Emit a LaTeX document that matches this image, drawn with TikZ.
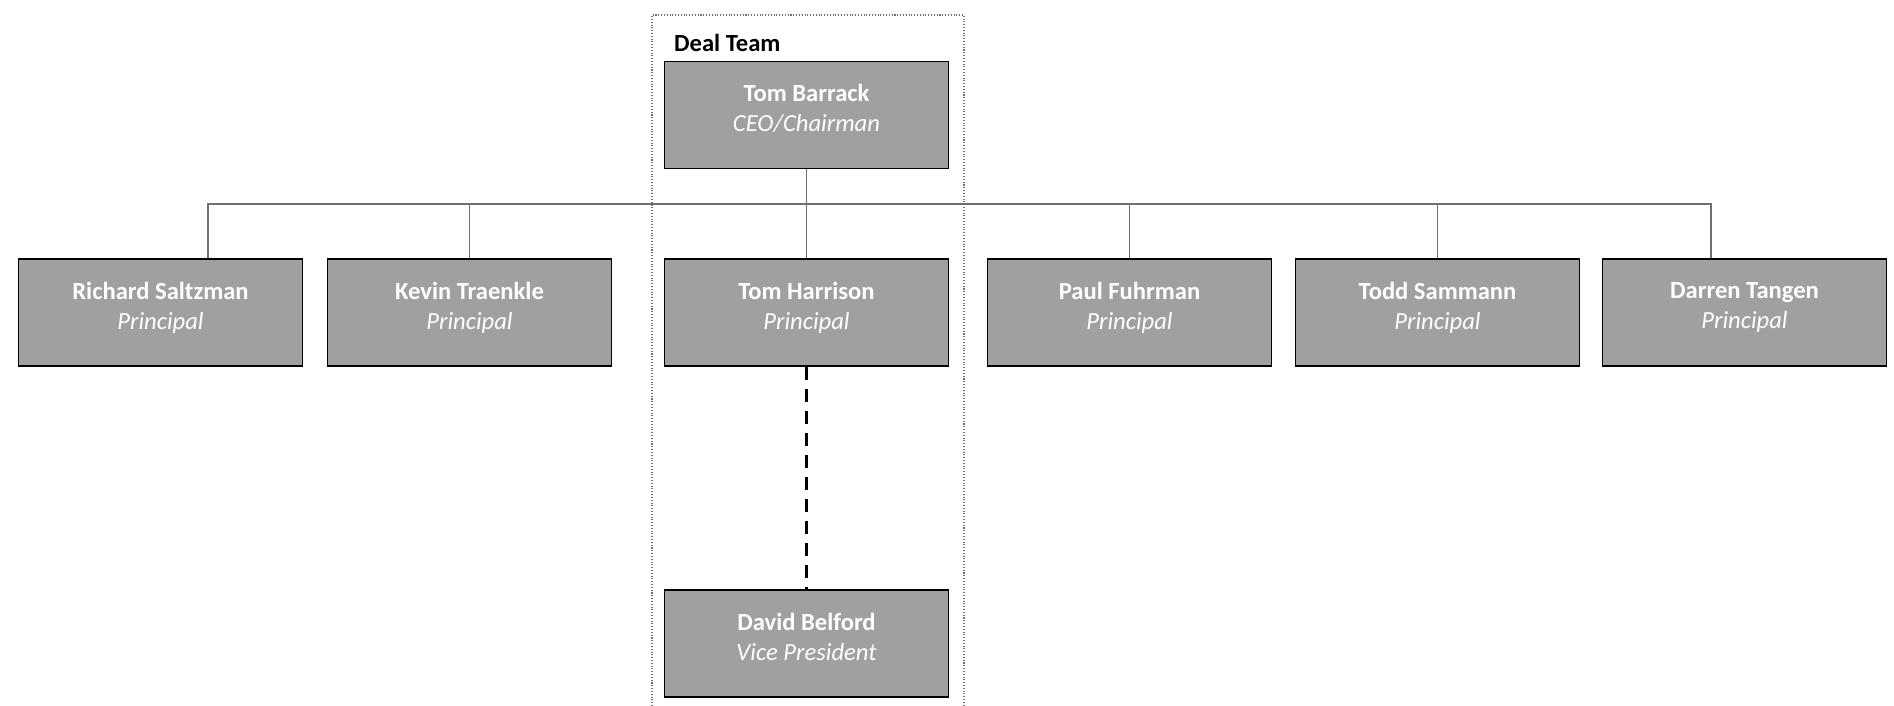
\documentclass[tikz,border=0pt]{standalone}
\usepackage{fontspec}
\setmainfont{Carlito}
\usepackage{tikz}
\usetikzlibrary{positioning,calc}
\definecolor{boxgray}{HTML}{A0A0A0}
\definecolor{linegray}{HTML}{707070}

\begin{document}
\begin{tikzpicture}[
    person/.style={draw=black, line width=1.1pt, fill=boxgray, text=white, align=center,
        minimum width=5.68cm, minimum height=2.14cm, font=\fontsize{14}{17}\selectfont,
        execute at end node={\rule[-0.28cm]{0pt}{0pt}}},
    link/.style={draw=linegray, line width=0.8pt},
    dline/.style={draw=black, line width=1.7pt, dash pattern=on 7.4pt off 5.1pt},
    dealbox/.style={draw=linegray, line width=0.6pt, densely dotted}]

\useasboundingbox (0,0) rectangle (37.88,14.12);

% deal team frame
\draw[dealbox] (13.04,0) -- (13.04,13.82) -- (19.28,13.82) -- (19.28,0);
\node[anchor=west, font=\fontsize{14}{17}\selectfont\bfseries] (dtl) at (13.36,13.26) {Deal Team};

\node[person] (tb) at (16.13,11.82) {\textbf{Tom Barrack}\\\textit{CEO/Chairman}};

\node[person] (rs) at (3.21,7.87) {\textbf{Richard Saltzman}\\\textit{Principal}};
\node[person] (kt) at (9.39,7.87) {\textbf{Kevin Traenkle}\\\textit{Principal}};
\node[person] (th) at (16.13,7.87) {\textbf{Tom Harrison}\\\textit{Principal}};
\node[person] (pf) at (22.59,7.87) {\textbf{Paul Fuhrman}\\\textit{Principal}};
\node[person] (ts) at (28.75,7.87) {\textbf{Todd Sammann}\\\textit{Principal}};
\node[person] (dt) at (34.89,7.87) {\textbf{Darren Tangen}\\\textit{Principal}};

\node[person] (db) at (16.13,1.25) {\textbf{David Belford}\\\textit{Vice President}};

\coordinate (bus) at (16.13,10.04);

\draw[link] (tb.south) -- (th.north);
\draw[link] ([xshift=0.95cm]rs.north) |- (bus) -| ([xshift=-0.67cm]dt.north);
\foreach \n in {kt,pf,ts}
    \draw[link] (\n.north) -- (\n.north |- bus);

\draw[dline] (th.south) -- (db.north);

\end{tikzpicture}
\end{document}
